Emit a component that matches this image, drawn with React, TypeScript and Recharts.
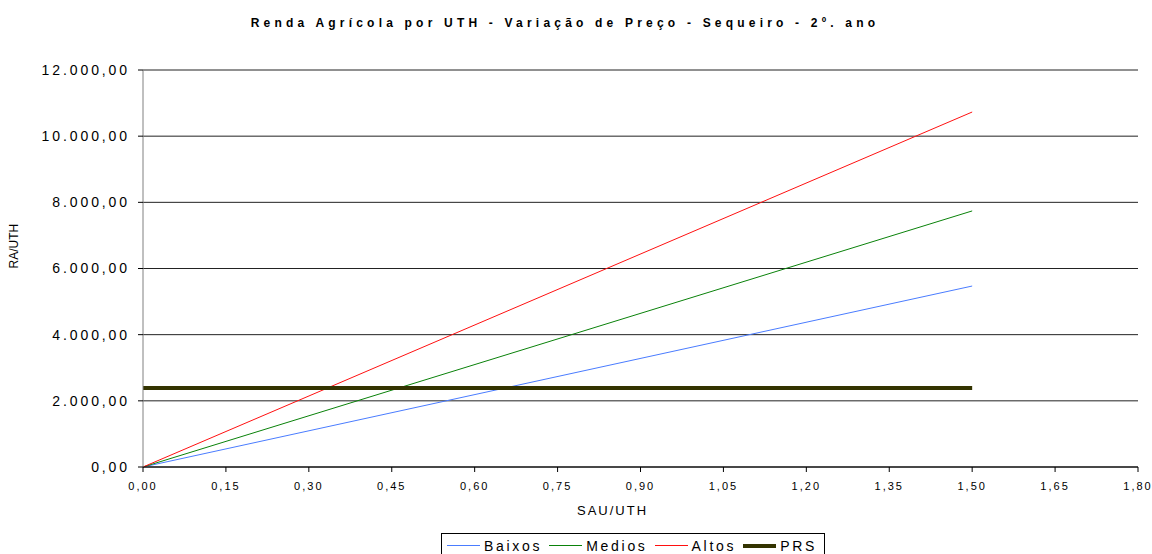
import React from 'react';
import {
  LineChart,
  Line,
  XAxis,
  YAxis,
  CartesianGrid,
} from 'recharts';

const sauUth = [0, 1.5];
const baixos = [0, 5470];
const medios = [0, 7740];
const altos = [0, 10730];
const prs = [2390, 2390];

const xTicks = [0, 0.15, 0.3, 0.45, 0.6, 0.75, 0.9, 1.05, 1.2, 1.35, 1.5, 1.65, 1.8];
const yTicks = [0, 2000, 4000, 6000, 8000, 10000, 12000];

const data = sauUth.map((x, i) => ({
  x,
  Baixos: baixos[i],
  Medios: medios[i],
  Altos: altos[i],
  PRS: prs[i],
}));

const font = 'Liberation Sans, Arial, sans-serif';

const fmtX = (v: number) => v.toFixed(2).replace('.', ',');
const fmtY = (v: number) => {
  const [int, dec] = v.toFixed(2).split('.');
  return int.replace(/\B(?=(\d{3})+(?!\d))/g, '.') + ',' + dec;
};

const legendItems = [
  { name: 'Baixos', color: '#4a7cff', width: 1 },
  { name: 'Medios', color: '#0a820a', width: 1 },
  { name: 'Altos', color: '#ff1010', width: 1 },
  { name: 'PRS', color: '#333300', width: 4 },
];

function LegendBox() {
  return (
    <div
      style={{
        position: 'absolute',
        left: 441,
        top: 533,
        height: 24,
        display: 'flex',
        alignItems: 'center',
        border: '1px solid #000',
        borderBottom: 'none',
        padding: '0 0 0 5px',
        fontFamily: font,
        fontSize: 14,
        letterSpacing: 2.7,
        background: '#fff',
        whiteSpace: 'nowrap',
        boxSizing: 'border-box',
      }}
    >
      {legendItems.map((it) => (
        <span key={it.name} style={{ display: 'inline-flex', alignItems: 'center', marginRight: 7 }}>
          <span
            style={{
              display: 'inline-block',
              width: 33,
              height: it.width,
              background: it.color,
              marginRight: 4,
            }}
          />
          <span style={{ color: '#000' }}>{it.name}</span>
        </span>
      ))}
    </div>
  );
}

export default function App() {
  return (
    <div style={{ position: 'absolute', left: 0, top: 0, width: 1152, height: 554, background: '#fff', overflow: 'hidden' }}>
      <div
        style={{
          position: 'absolute',
          top: 16,
          left: 245,
          width: 640,
          textAlign: 'center',
          fontFamily: font,
          fontWeight: 'bold',
          fontSize: 12,
          letterSpacing: 4.2,
          whiteSpace: 'nowrap',
        }}
      >
        Renda Agrícola por UTH - Variação de Preço - Sequeiro - 2º. ano
      </div>
      <LineChart
        width={1152}
        height={554}
        data={data}
        margin={{ top: 70, right: 14, left: 0, bottom: 0 }}
      >
        <CartesianGrid horizontal vertical={false} stroke="#222" strokeOpacity={1} />
        <XAxis
          dataKey="x"
          type="number"
          domain={[0, 1.8]}
          ticks={xTicks}
          tickFormatter={fmtX}
          interval={0}
          stroke="#000"
          tickSize={5}
          tick={{ fill: '#000', fontSize: 11, fontFamily: font, letterSpacing: 2, dy: 8 }}
          height={87}
          label={{
            value: 'SAU/UTH',
            position: 'insideTop',
            offset: 39,
            dx: -28,
            fill: '#000',
            fontSize: 13,
            fontFamily: font,
            letterSpacing: 2,
          }}
        />
        <YAxis
          type="number"
          domain={[0, 12000]}
          ticks={yTicks}
          tickFormatter={fmtY}
          interval={0}
          stroke="#808080"
          tickLine={{ stroke: '#000' }}
          tickSize={5}
          width={143}
          tick={{ fill: '#000', fontSize: 14, fontFamily: font, letterSpacing: 2.9, dx: -6 }}
          label={{
            value: 'RA/UTH',
            angle: -90,
            position: 'insideLeft',
            offset: 14,
            fill: '#000',
            fontSize: 12,
            fontFamily: font,
          }}
        />
        <Line dataKey="Baixos" stroke="#4a7cff" strokeWidth={1} dot={false} isAnimationActive={false} />
        <Line dataKey="Medios" stroke="#0a820a" strokeWidth={1} dot={false} isAnimationActive={false} />
        <Line dataKey="Altos" stroke="#ff1010" strokeWidth={1} dot={false} isAnimationActive={false} />
        <Line dataKey="PRS" stroke="#333300" strokeWidth={4} dot={false} isAnimationActive={false} />
      </LineChart>
      <LegendBox />
    </div>
  );
}
